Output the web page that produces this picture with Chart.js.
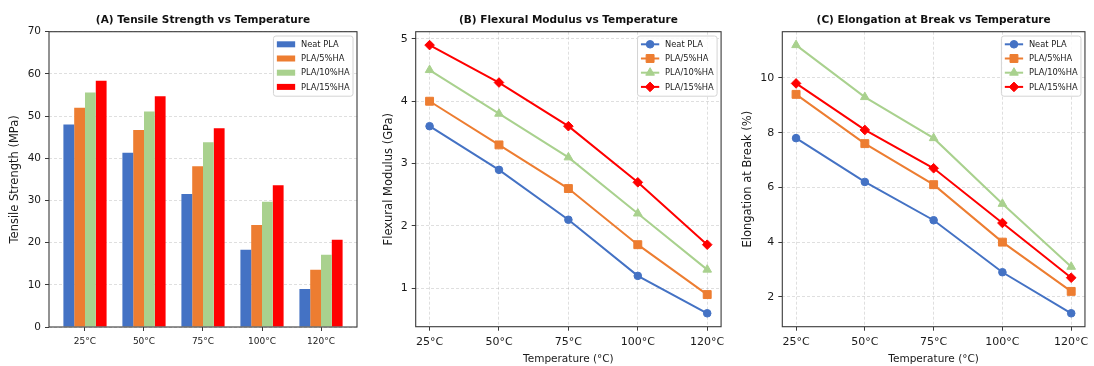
<!DOCTYPE html>
<html><head><meta charset="utf-8">
<script src="https://cdn.jsdelivr.net/npm/chart.js@4.4.1/dist/chart.umd.min.js"></script>
<style>
html,body{margin:0;padding:0;background:#fff;}
#wrap{position:relative;width:1094px;height:366px;overflow:hidden;}
.p{position:absolute;top:0;height:366px;}
</style></head><body>
<div id="wrap">
<div class="p" style="left:0;width:365px"><canvas id="cA"></canvas></div>
<div class="p" style="left:365px;width:365px"><canvas id="cB"></canvas></div>
<div class="p" style="left:730px;width:364px"><canvas id="cC"></canvas></div>
</div>
<script>
// ---- data ----
const temperatures = ['25°C', '50°C', '75°C', '100°C', '120°C'];
const seriesNames = ['Neat PLA', 'PLA/5%HA', 'PLA/10%HA', 'PLA/15%HA'];

const tensileNeat = [48.0, 41.3, 31.5, 18.3, 9.0];
const tensile5 = [52.0, 46.7, 38.1, 24.2, 13.6];
const tensile10 = [55.6, 51.1, 43.8, 29.7, 17.1];
const tensile15 = [58.4, 54.7, 47.1, 33.6, 20.7];

const modulusNeat = [3.6, 2.9, 2.1, 1.2, 0.6];
const modulus5 = [4.0, 3.3, 2.6, 1.7, 0.9];
const modulus10 = [4.5, 3.8, 3.1, 2.2, 1.3];
const modulus15 = [4.9, 4.3, 3.6, 2.7, 1.7];

const elongNeat = [7.8, 6.2, 4.8, 2.9, 1.4];
const elong5 = [9.4, 7.6, 6.1, 4.0, 2.2];
const elong10 = [11.2, 9.3, 7.8, 5.4, 3.1];
const elong15 = [9.8, 8.1, 6.7, 4.7, 2.7];

const tensileTicks = [0, 10, 20, 30, 40, 50, 60, 70];
const modulusTicks = [1, 2, 3, 4, 5];
const elongTicks = [2, 4, 6, 8, 10];

// ---- styles ----
const FONT = "'DejaVu Sans', sans-serif";
const TEXT = '#1a1a1a';
const FRAME = '#3a3a3a';
const GRID = 'rgba(176,176,176,0.5)';
const colors = ['#4472C4', '#ED7D31', '#A9D18E', '#FF0000'];
const markers = [
  {style: 'circle', r: 3.8},
  {style: 'rect', r: 5.6},
  {style: 'triangle', r: 5.0},
  {style: 'rectRot', r: 4.8}
];

const toXY = arr => arr.map((v, i) => ({x: i, y: v}));

const frameAndLegend = {
  id: 'frameAndLegend',
  afterDraw(chart, args, opts) {
    const {ctx, chartArea: a} = chart;
    ctx.save();
    ctx.setLineDash([]);
    ctx.strokeStyle = FRAME; ctx.lineWidth = 1.1;
    ctx.strokeRect(a.left, a.top, a.right - a.left, a.bottom - a.top);
    const ds = chart.data.datasets;
    ctx.font = '8.3px ' + FONT;
    let tw = 0;
    ds.forEach(d => { tw = Math.max(tw, ctx.measureText(d.label).width); });
    const pad = 3.4, hw = 18.3, gap = 5.8, rowH = 14.2, first = 8.3;
    const w = pad + hw + gap + tw + pad;
    const h = first * 2 + rowH * (ds.length - 1) + 1;
    const x0 = a.right - 4 - w, y0 = a.top + 4.3;
    ctx.beginPath();
    if (ctx.roundRect) ctx.roundRect(x0, y0, w, h, 2.5); else ctx.rect(x0, y0, w, h);
    ctx.fillStyle = 'rgba(255,255,255,0.85)'; ctx.fill();
    ctx.strokeStyle = '#d4d4d4'; ctx.lineWidth = 1; ctx.stroke();
    ds.forEach((d, i) => {
      const cy = y0 + first + i * rowH;
      const hx = x0 + pad;
      if (opts.kind === 'bar') {
        ctx.fillStyle = d.backgroundColor;
        ctx.fillRect(hx, cy - 3, hw, 6);
      } else {
        ctx.strokeStyle = d.borderColor; ctx.lineWidth = 2;
        ctx.beginPath(); ctx.moveTo(hx, cy); ctx.lineTo(hx + hw, cy); ctx.stroke();
        ctx.fillStyle = d.pointBackgroundColor; ctx.strokeStyle = d.pointBorderColor; ctx.lineWidth = 1;
        Chart.helpers.drawPoint(ctx, {pointStyle: d.pointStyle, radius: d.pointRadius, borderWidth: 1, rotation: 0}, hx + hw / 2, cy);
      }
      ctx.fillStyle = TEXT; ctx.textBaseline = 'middle'; ctx.textAlign = 'left';
      ctx.fillText(d.label, hx + hw + gap, cy + 0.5);
    });
    ctx.restore();
  }
};

function xScale(min, max, height, tickSize, titleText, showGrid) {
  return {
    type: 'linear', min: min, max: max, offset: false,
    afterBuildTicks: s => { s.ticks = temperatures.map((_, i) => ({value: i})); },
    afterFit: s => { s.height = height; },
    grid: {display: true, drawOnChartArea: true, offset: false, color: showGrid ? GRID : 'rgba(0,0,0,0)', lineWidth: 0.8,
           drawTicks: true, tickLength: 4, tickColor: FRAME, tickWidth: 1, tickBorderDash: []},
    border: {display: false, dash: [3, 2]},
    ticks: {autoSkip: false, maxRotation: 0, color: TEXT, font: {family: FONT, size: tickSize}, padding: 5.3,
            callback: v => temperatures[Math.round(v)]},
    title: {display: !!titleText, text: titleText || '', color: TEXT, font: {family: FONT, size: 10.5}, padding: {top: 0, bottom: 0.4}}
  };
}

function yScale(min, max, tickVals, width, titleText, titlePad, tickSize) {
  return {
    type: 'linear', min: min, max: max,
    afterBuildTicks: s => { s.ticks = tickVals.map(v => ({value: v})); },
    afterFit: s => { s.width = width; },
    grid: {display: true, color: GRID, lineWidth: 0.8, drawTicks: true, tickLength: 4, tickColor: FRAME, tickWidth: 1, tickBorderDash: []},
    border: {display: false, dash: [3, 2]},
    ticks: {color: TEXT, font: {family: FONT, size: tickSize}, padding: 4},
    title: {display: true, text: titleText, color: TEXT, font: {family: FONT, size: 11.5}, padding: {top: titlePad, bottom: 0}}
  };
}

function titleOpts(text) {
  return {display: true, text: text, color: '#111', fullSize: false,
          font: {family: FONT, size: 10.5, weight: 'bold'}, padding: {top: 13.7, bottom: 5.4}};
}

// ---- Chart A: bars ----
const tensileSeries = [tensileNeat, tensile5, tensile10, tensile15];
new Chart(document.getElementById('cA'), {
  type: 'bar',
  data: {
    datasets: tensileSeries.map((arr, i) => ({
      label: seriesNames[i], data: toXY(arr), backgroundColor: colors[i], borderWidth: 0,
      categoryPercentage: 0.732, barPercentage: 1.0
    }))
  },
  options: {
    responsive: true, maintainAspectRatio: false, animation: false,
    layout: {padding: {left: 0, right: 8, top: 0, bottom: 0}},
    plugins: {legend: {display: false}, tooltip: {enabled: false}, title: titleOpts('(A) Tensile Strength vs Temperature'),
              frameAndLegend: {kind: 'bar'}},
    scales: {
      x: xScale(-0.61, 4.61, 39, 9, '', false),
      y: yScale(0, 70, tensileTicks, 49, 'Tensile Strength (MPa)', 8.1, 10.5)
    }
  },
  plugins: [frameAndLegend]
});

function lineChart(id, seriesList, title, yMin, yMax, yTicks, yWidth, yTitle, yTitlePad, padRight) {
  new Chart(document.getElementById(id), {
    type: 'line',
    data: {
      datasets: seriesList.map((arr, i) => ({
        label: seriesNames[i], data: toXY(arr), borderColor: colors[i], backgroundColor: colors[i],
        pointBackgroundColor: colors[i], pointBorderColor: colors[i], pointBorderWidth: 1,
        pointStyle: markers[i].style, pointRadius: markers[i].r, borderWidth: 2, tension: 0,
        order: seriesList.length - 1 - i
      }))
    },
    options: {
      responsive: true, maintainAspectRatio: false, animation: false,
      layout: {padding: {left: 0, right: padRight, top: 0, bottom: 0}},
      plugins: {legend: {display: false}, tooltip: {enabled: false}, title: titleOpts(title),
                frameAndLegend: {kind: 'line'}},
      scales: {
        x: xScale(-0.2, 4.2, 39.3, 11, 'Temperature (°C)', true),
        y: yScale(yMin, yMax, yTicks, yWidth, yTitle, yTitlePad, 11)
      }
    },
    plugins: [frameAndLegend]
  });
}

lineChart('cB', [modulusNeat, modulus5, modulus10, modulus15], '(B) Flexural Modulus vs Temperature',
          0.385, 5.115, modulusTicks, 50.7, 'Flexural Modulus (GPa)', 17.3, 7.3);
lineChart('cC', [elongNeat, elong5, elong10, elong15], '(C) Elongation at Break vs Temperature',
          0.91, 11.69, elongTicks, 52.3, 'Elongation at Break (%)', 11.1, 5.7);
</script>
</body></html>
